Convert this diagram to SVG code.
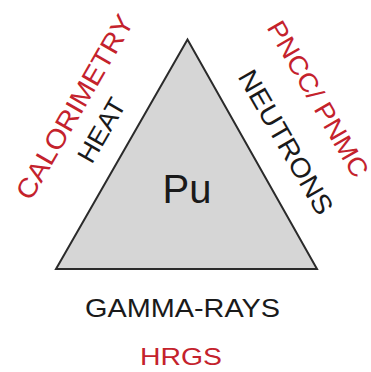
<svg xmlns="http://www.w3.org/2000/svg" width="371" height="372" viewBox="0 0 371 372">
<style>
text{font-family:"Liberation Sans",Arial,sans-serif;text-anchor:middle}
.k{fill:#1a1a1a}
.r{fill:#c4222c}
</style>
<rect width="371" height="372" fill="#ffffff"/>
<g id="pu">
<polygon points="187.5,39.5 56,269 317,269" fill="#d6d6d6" stroke="#2b2b2b" stroke-width="2" stroke-linejoin="miter"/>
<text class="k" x="187" y="203" font-size="40">Pu</text>
</g>
<g id="heat">
<text class="k" transform="translate(101,130) rotate(-60)" x="0" y="9.5" font-size="26" textLength="70" lengthAdjust="spacingAndGlyphs">HEAT</text>
</g>
<g id="calorimetry">
<text class="r" transform="translate(74.5,107) rotate(-60)" x="0" y="9.5" font-size="27" textLength="208" lengthAdjust="spacingAndGlyphs">CALORIMETRY</text>
</g>
<g id="neutrons">
<text class="k" transform="translate(286,142) rotate(60)" x="0" y="9.5" font-size="27" textLength="162" lengthAdjust="spacingAndGlyphs">NEUTRONS</text>
</g>
<g id="pncc">
<text class="r" transform="translate(318,99) rotate(60)" x="0" y="9" font-size="26" textLength="176" lengthAdjust="spacingAndGlyphs">PNCC/ PNMC</text>
</g>
<g id="gamma">
<text class="k" x="182.5" y="317" font-size="26.5" textLength="195" lengthAdjust="spacingAndGlyphs">GAMMA-RAYS</text>
</g>
<g id="hrgs">
<text class="r" x="181" y="365" font-size="24" textLength="82" lengthAdjust="spacingAndGlyphs">HRGS</text>
</g>
<g id="connectors"/>
</svg>
